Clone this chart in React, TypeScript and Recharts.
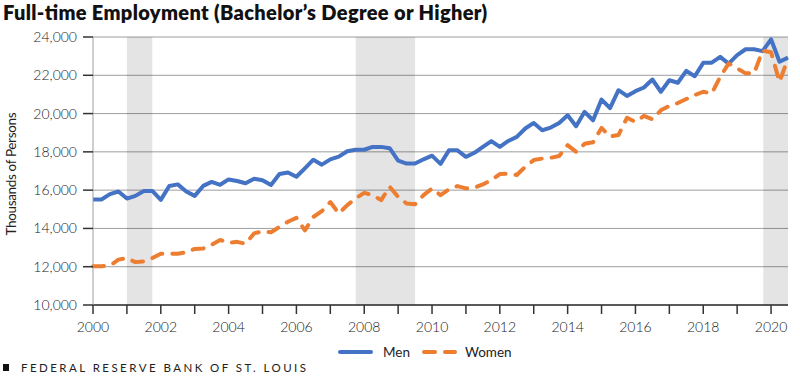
import React from 'react';
import { LineChart, Line, XAxis, YAxis, CartesianGrid, ReferenceArea } from 'recharts';

const START_YEAR = 2000;

// Quarterly values, thousands of persons (2000 Q1 .. 2020 Q3)
const MEN = [
  15510, 15510, 15790, 15930,
  15560, 15700, 15960, 15960,
  15490, 16220, 16300, 15930,
  15700, 16220, 16430, 16280,
  16560, 16480, 16360, 16600,
  16520, 16270, 16840, 16920,
  16700, 17140, 17590, 17330,
  17610, 17750, 18030, 18110,
  18110, 18260, 18260, 18190,
  17540, 17390, 17390, 17610,
  17800, 17370, 18080, 18080,
  17740, 17950, 18260, 18560,
  18260, 18570, 18780, 19220,
  19510, 19130, 19270, 19510,
  19910, 19340, 20090, 19650,
  20730, 20290, 21220, 20920,
  21170, 21360, 21780, 21140,
  21740, 21610, 22230, 21950,
  22650, 22660, 22960, 22610,
  23050, 23360, 23360, 23260,
  23880, 22710, 22920,
];

const WOMEN = [
  12020, 12020, 12060, 12370,
  12450, 12240, 12280, 12450,
  12680, 12680, 12680, 12750,
  12930, 12950, 13150, 13400,
  13250, 13300, 13200, 13740,
  13850, 13800, 14080, 14350,
  14550, 13900, 14600, 14900,
  15380, 14780, 15220, 15570,
  15860, 15740, 15480, 16180,
  15650, 15300, 15260, 15740,
  16090, 15740, 16040, 16210,
  16090, 16130, 16300, 16530,
  16840, 16860, 16790, 17220,
  17570, 17650, 17690, 17780,
  18350, 18000, 18420, 18500,
  19250, 18800, 18880, 19780,
  19570, 19880, 19700, 20170,
  20400, 20550, 20760, 20970,
  21140, 21050, 21920, 22620,
  22360, 22100, 22100, 23290,
  23200, 21660, 22880,
];

const RECESSIONS: [number, number][] = [
  [2001.0, 2001.75],
  [2007.75, 2009.5],
  [2019.77, 2020.5],
];

const X_TICKS = [2000, 2001, 2002, 2003, 2004, 2005, 2006, 2007, 2008, 2009, 2010,
  2011, 2012, 2013, 2014, 2015, 2016, 2017, 2018, 2019, 2020];
const Y_TICKS = [10000, 12000, 14000, 16000, 18000, 20000, 22000, 24000];

const TITLE = 'Full-time Employment (Bachelor\u2019s Degree or Higher)';
const Y_LABEL = 'Thousands of Persons';
const SOURCE = 'FEDERAL RESERVE BANK OF ST. LOUIS';
const SERIES_NAMES = ['Men', 'Women'];

const MEN_COLOR = '#4472C4';
const WOMEN_COLOR = '#ED7D31';
const FONT = 'Lato, "Open Sans", sans-serif';

const data = MEN.map((m, i) => ({ t: START_YEAR + i / 4, men: m, women: WOMEN[i] }));

const fmtY = (v: number) => v.toLocaleString('en-US');
const fmtX = (v: number) => (v % 2 === 0 ? String(v) : '');

export default function App() {
  return (
    <div style={{ position: 'absolute', left: 0, top: 0, width: 800, height: 377, background: '#fff' }}>
      <LineChart
        width={800}
        height={377}
        data={data}
        margin={{ top: 37, right: 12, bottom: 42, left: 0 }}
      >
        {RECESSIONS.map(([a, b], i) => (
          <ReferenceArea key={i} x1={a} x2={b} y1={10000} y2={24000} fill="#000" fillOpacity={0.105} stroke="none" ifOverflow="hidden" />
        ))}
        <CartesianGrid vertical={false} stroke="#9e9e9e" strokeWidth={1} />
        <XAxis
          dataKey="t"
          type="number"
          domain={[2000, 2020.5]}
          ticks={X_TICKS}
          interval={0}
          tickFormatter={fmtX}
          height={30}
          tickSize={9}
          tickMargin={8}
          axisLine={{ stroke: '#333', strokeWidth: 1.5 }}
          tickLine={{ stroke: '#333', strokeWidth: 1.5 }}
          tick={{ fontFamily: FONT, fontSize: 14, fill: '#222', fontWeight: 300 }}
        />
        <YAxis
          type="number"
          domain={[10000, 24000]}
          ticks={Y_TICKS}
          interval={0}
          tickFormatter={fmtY}
          width={93}
          tickSize={10}
          tickMargin={6}
          axisLine={{ stroke: '#9e9e9e' }}
          tickLine={{ stroke: '#333', strokeWidth: 1.5 }}
          tick={{ fontFamily: FONT, fontSize: 14, fill: '#222', fontWeight: 300 }}
        />
        <Line
          type="linear"
          dataKey="men"
          name={SERIES_NAMES[0]}
          stroke={MEN_COLOR}
          strokeWidth={4}
          strokeLinejoin="round"
          dot={false}
          isAnimationActive={false}
        />
        <Line
          type="linear"
          dataKey="women"
          name={SERIES_NAMES[1]}
          stroke={WOMEN_COLOR}
          strokeWidth={4}
          strokeDasharray="11 10"
          strokeLinecap="round"
          strokeLinejoin="round"
          dot={false}
          isAnimationActive={false}
        />
      </LineChart>
      <svg width={800} height={377} style={{ position: 'absolute', left: 0, top: 0, pointerEvents: 'none' }}>
        <text x={3} y={20} fontFamily={FONT} fontWeight={800} fontSize={20} fill="#111" textLength={484} lengthAdjust="spacing">
          {TITLE}
        </text>
        <text
          transform="translate(16,174) rotate(-90)"
          textAnchor="middle"
          fontFamily={FONT}
          fontSize={13.5}
          fill="#222"
          textLength={123}
          lengthAdjust="spacing"
        >
          {Y_LABEL}
        </text>
        <line x1={340} y1={352} x2={371} y2={352} stroke={MEN_COLOR} strokeWidth={4} strokeLinecap="round" />
        <text x={383} y={357} fontFamily={FONT} fontSize={13.5} fill="#222">{SERIES_NAMES[0]}</text>
        <line x1={424} y1={352} x2={455} y2={352} stroke={WOMEN_COLOR} strokeWidth={4} strokeLinecap="round" strokeDasharray="11 10" />
        <text x={465} y={357} fontFamily={FONT} fontSize={13.5} fill="#222">{SERIES_NAMES[1]}</text>
        <rect x={3} y={364} width={6} height={7} fill="#111" />
        <text x={21} y={372} fontFamily={FONT} fontSize={11.5} fill="#222" textLength={285} lengthAdjust="spacing">
          {SOURCE}
        </text>
      </svg>
    </div>
  );
}
